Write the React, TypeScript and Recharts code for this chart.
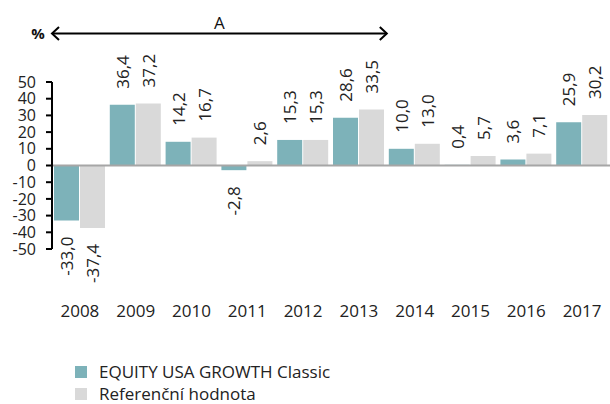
import { BarChart, Bar, XAxis, YAxis, ReferenceLine, LabelList } from 'recharts'

const years = ['2008', '2009', '2010', '2011', '2012', '2013', '2014', '2015', '2016', '2017']
const fund = [-33.0, 36.4, 14.2, -2.8, 15.3, 28.6, 10.0, 0.4, 3.6, 25.9]
const bench = [-37.4, 37.2, 16.7, 2.6, 15.3, 33.5, 13.0, 5.7, 7.1, 30.2]
const yTicks = [50, 40, 30, 20, 10, 0, -10, -20, -30, -40, -50]
const seriesNames = ['EQUITY USA GROWTH Classic', 'Referenční hodnota']
const arrowLabel = 'A'
const arrowSpan = 6 // years covered by the arrow, from 2008

const TEAL = '#7db2b9'
const GREY = '#d9d9d9'
const FONT = '"Open Sans", "Noto Sans", sans-serif'

const W = 610
const H = 404
const PLOT_LEFT = 52
const PLOT_TOP = 82
const PLOT_BOTTOM = 249

const data = years.map((y, i) => ({ year: y, fund: fund[i], bench: bench[i] }))

const fmt = (v: number) => v.toFixed(1).replace('.', ',')

const ValueLabel = (props: any) => {
  const { x, y, width, height, value } = props
  if (value == null) return null
  const cx = x + width / 2
  const top = Math.min(y, y + height)
  const bottom = Math.max(y, y + height)
  const neg = value < 0
  const ay = neg ? bottom + 16 : top - 16
  return (
    <text
      x={cx} y={ay}
      transform={`rotate(-90 ${cx} ${ay})`}
      textAnchor={neg ? 'end' : 'start'}
      dominantBaseline="central"
      fontSize={17} fill="#222" fontFamily={FONT}
    >
      {fmt(value)}
    </text>
  )
}

const YearTick = ({ x, y, payload }: any) => (
  <text x={x} y={y + 53} textAnchor="middle" dominantBaseline="central"
    fontSize={17} fill="#222" fontFamily={FONT}>
    {payload.value}
  </text>
)

export default function App() {
  const band = (W - PLOT_LEFT) / years.length
  const arrowEnd = PLOT_LEFT + band * arrowSpan
  return (
    <div style={{ position: 'absolute', left: 0, top: 0, width: W, height: H, background: '#fff', fontFamily: FONT, overflow: 'hidden' }}>
      <BarChart
        width={W} height={H} data={data}
        margin={{ top: PLOT_TOP, right: 0, bottom: H - PLOT_BOTTOM - 60, left: 0 }}
        barCategoryGap={2} barGap={1}
      >
        <XAxis dataKey="year" height={60} axisLine={false} tickLine={false} tick={<YearTick />} interval={0} />
        <YAxis
          width={PLOT_LEFT} domain={[-50, 50]} ticks={yTicks} interval={0}
          axisLine={{ stroke: '#000', strokeWidth: 2 }}
          tickLine={{ stroke: '#000', strokeWidth: 2 }}
          tickSize={6} tickMargin={10}
          tick={{ fontSize: 16, fill: '#222', fontFamily: FONT }}
        />
        <ReferenceLine y={0} stroke="#a6a6a6" strokeWidth={2} />
        <Bar dataKey="fund" fill={TEAL} isAnimationActive={false}>
          <LabelList dataKey="fund" content={<ValueLabel />} />
        </Bar>
        <Bar dataKey="bench" fill={GREY} isAnimationActive={false}>
          <LabelList dataKey="bench" content={<ValueLabel />} />
        </Bar>
      </BarChart>

      <svg width={W} height={60} style={{ position: 'absolute', left: 0, top: 0 }}>
        <text x={38} y={33} textAnchor="middle" dominantBaseline="central" fontSize={15} fontWeight="bold" fill="#111" fontFamily={FONT}>%</text>
        <line x1={PLOT_LEFT} y1={33.5} x2={arrowEnd} y2={33.5} stroke="#000" strokeWidth={2} />
        <polyline points={`${PLOT_LEFT + 7},27 ${PLOT_LEFT},33.5 ${PLOT_LEFT + 7},40`} fill="none" stroke="#000" strokeWidth={2} />
        <polyline points={`${arrowEnd - 7},27 ${arrowEnd},33.5 ${arrowEnd - 7},40`} fill="none" stroke="#000" strokeWidth={2} />
        <text x={(PLOT_LEFT + arrowEnd) / 2} y={22} textAnchor="middle" dominantBaseline="central" fontSize={17} fill="#111" fontFamily={FONT}>{arrowLabel}</text>
      </svg>

      <div style={{ position: 'absolute', left: 75, top: 362, fontSize: 17, color: '#222', lineHeight: '20px' }}>
        {seriesNames.map((n, i) => (
          <div key={n} style={{ display: 'flex', alignItems: 'center', height: 20, marginBottom: i === 0 ? 2 : 0 }}>
            <span style={{ width: 12, height: 12, background: i === 0 ? TEAL : GREY, marginRight: 12, display: 'inline-block' }} />
            {n}
          </div>
        ))}
      </div>
    </div>
  )
}
